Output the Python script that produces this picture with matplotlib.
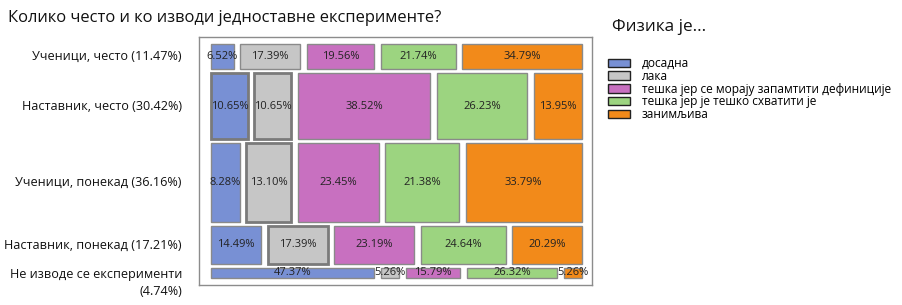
import matplotlib.pyplot as plt
from matplotlib.patches import Rectangle, Patch
import matplotlib.transforms as mtransforms

plt.rcParams['font.family'] = ['Open Sans', 'DejaVu Sans']

# data
rows = ["Ученици, често (11.47%)", "Наставник, често (30.42%)",
        "Ученици, понекад (36.16%)", "Наставник, понекад (17.21%)",
        "Не изводе се експерименти\n(4.74%)"]
row_share = [11.47, 30.42, 36.16, 17.21, 4.74]
categories = ["досадна", "лака", "тешка јер се морају запамтити дефиниције",
              "тешка јер је тешко схватити је", "занимљива"]
shares = [
    [6.52, 17.39, 19.56, 21.74, 34.79],
    [10.65, 10.65, 38.52, 26.23, 13.95],
    [8.28, 13.10, 23.45, 21.38, 33.79],
    [14.49, 17.39, 23.19, 24.64, 20.29],
    [47.37, 5.26, 15.79, 26.32, 5.26],
]
colors = ["#7890d4", "#c6c6c6", "#c870c0", "#9cd480", "#f28a1a"]
# cells drawn with a heavier outline in the original
thick = {(1, 0), (1, 1), (2, 1), (3, 1)}

xgap, ygap = 1.9, 1.83

fig = plt.figure(figsize=(9.03, 3.05), dpi=100)
ax = fig.add_axes([199 / 903, 1 - 285 / 305, 393 / 903, 248 / 305])

trans = mtransforms.blended_transform_factory(fig.transFigure, ax.transData)
y = 0
for i, (h, row) in enumerate(zip(row_share, shares)):
    x = 0
    for j, w in enumerate(row):
        lw, ec = (2.0, "#7a7a7a") if (i, j) in thick else (1.0, "#8a8a8a")
        ax.add_patch(Rectangle((x, y), w, h, facecolor=colors[j],
                               edgecolor=ec, linewidth=lw))
        ax.text(x + w / 2, y + h / 2, f"{w:.2f}%", ha="center", va="center",
                fontsize=8.0, color="#222222")
        x += w + xgap
    t = trans
    if i == len(rows) - 1:
        t = trans + mtransforms.ScaledTranslation(0, -10 / 100, fig.dpi_scale_trans)
    ax.text(182 / 903, y + h / 2, rows[i], transform=t, ha="right", va="center",
            fontsize=9.1, color="#111111", linespacing=1.4)
    y += h + ygap

ax.set_xlim(-3.5, 100 + 4 * xgap + 2.9)
ax.set_ylim(100 + 4 * ygap + 3.2, -3.2)
ax.set_xticks([])
ax.set_yticks([])
for s in ax.spines.values():
    s.set_color("#8c8c8c")
    s.set_linewidth(1)

fig.text(8 / 903, 1 - 18 / 305, "Колико често и ко изводи једноставне експерименте?",
         ha="left", va="center", fontsize=11.9, color="#111111")
fig.text(612 / 903, 1 - 27 / 305, "Физика је...", ha="left", va="center",
         fontsize=12.3, color="#111111")

handles = [Patch(facecolor=c, edgecolor="#222222", linewidth=1) for c in colors]
fig.legend(handles, categories, loc="upper left",
           bbox_to_anchor=(608 / 903, 1 - 57 / 305), frameon=False,
           fontsize=8.6, handlelength=1.85, handleheight=0.7,
           labelspacing=-0.02, handletextpad=1.0, borderpad=0, borderaxespad=0)

fig.savefig("out.png", dpi=100)
